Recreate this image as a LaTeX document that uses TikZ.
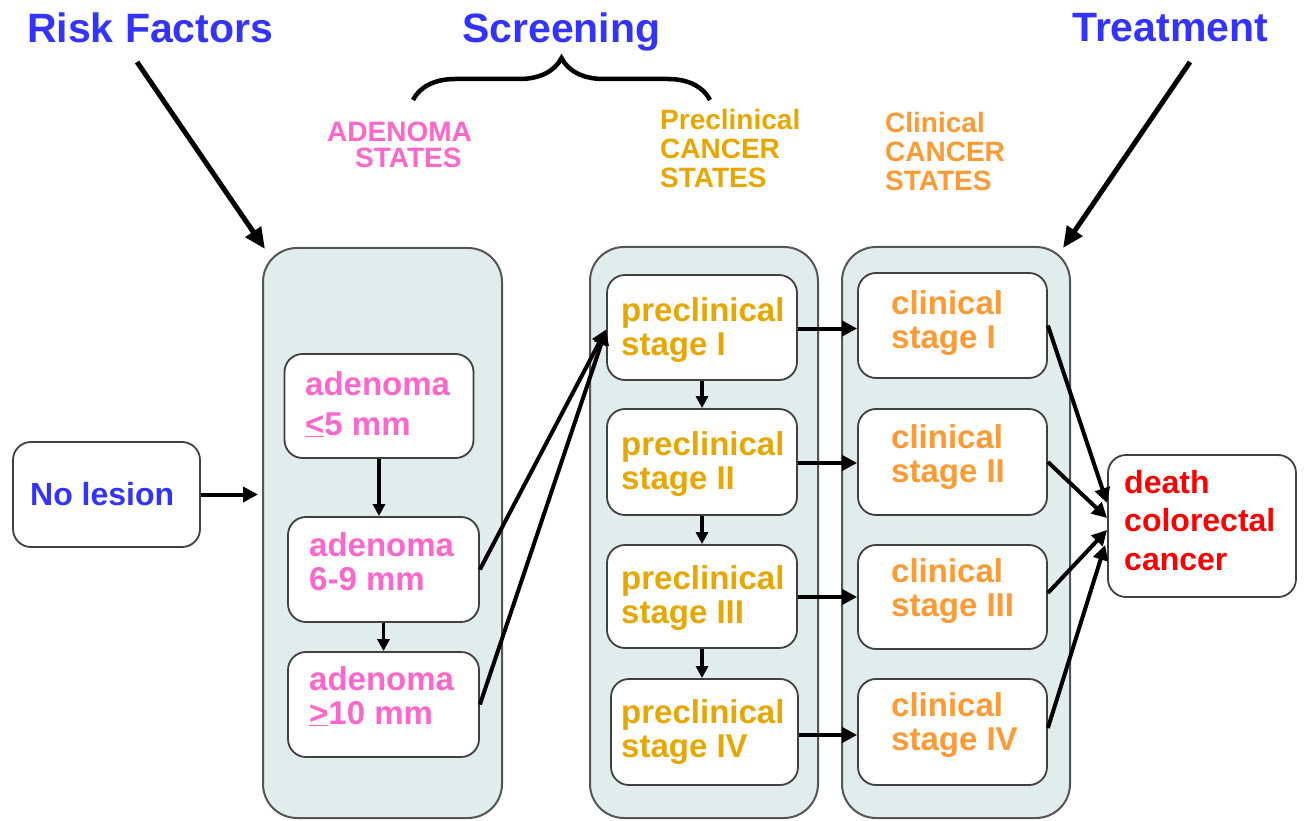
\documentclass[tikz,border=0pt]{standalone}
\usepackage{fontspec}
\setmainfont{Liberation Sans}
\usetikzlibrary{arrows.meta,decorations.pathreplacing}
\definecolor{ttblue}{RGB}{51,51,255}
\definecolor{adpink}{RGB}{255,102,204}
\definecolor{pregold}{RGB}{231,166,0}
\definecolor{clorange}{RGB}{255,153,51}
\definecolor{dred}{RGB}{255,0,0}
\definecolor{contfill}{RGB}{225,237,237}
\definecolor{contgray}{RGB}{85,85,85}
\definecolor{boxgray}{RGB}{64,64,64}
\begin{document}
\begin{tikzpicture}[x=1pt,y=-1pt,
  container/.style={draw=contgray, line width=2pt, fill=contfill, rounded corners=34pt, inner sep=0pt},
  sbox/.style={draw=boxgray, line width=1.8pt, fill=white, rounded corners=18pt, inner sep=0pt},
  txt/.style={anchor=base west, align=left, inner sep=0pt},
  title/.style={txt, text=ttblue, font={\bfseries\fontsize{41pt}{44pt}\selectfont}},
  head/.style={txt, font={\bfseries\fontsize{28pt}{29pt}\selectfont}},
  inner/.style={txt, font={\bfseries\fontsize{33pt}{34pt}\selectfont}},
  conn/.style={line width=4pt, -{Triangle[length=15pt,width=15pt]}},
  down/.style={line width=3.2pt, -{Triangle[length=12pt,width=12pt]}},
  bigarrow/.style={line width=5pt, -{Triangle[length=21pt,width=18pt]}}
]
\useasboundingbox (0,0) rectangle (1304,821);

% titles
\node[title] (rf) at (27,43) {Risk Factors};
\node[title] (scr) at (462,43) {Screening};
\node[title] (trt) at (1072,42) {Treatment};

% section headings (anchor = baseline of last line)
\node[head, text=adpink, font={\bfseries\fontsize{28pt}{26pt}\selectfont}] (hAd) at (327,168) {ADENOMA\\\hspace*{28pt}STATES};
\node[head, text=pregold] (hPre) at (660,188) {Preclinical\\CANCER\\STATES};
\node[head, text=clorange] (hCl) at (885,191) {Clinical\\CANCER\\STATES};

% brace
\coordinate (brL) at (413,100);
\coordinate (brR) at (710,100);
\draw[line width=4.5pt, decorate, decoration={brace, amplitude=42pt}] (brL) -- (brR);

% containers
\node[container, minimum width=239pt, minimum height=570pt] (adC) at (382.5,533) {};
\node[container, minimum width=228pt, minimum height=571pt] (preC) at (704,532.5) {};
\node[container, minimum width=228pt, minimum height=571pt] (clC) at (956,532.5) {};

% boxes
\node[sbox, minimum width=187pt, minimum height=105pt] (nl) at (106.5,494.5) {};
\node[sbox, minimum width=189pt, minimum height=104pt] (a1) at (379,406) {};
\node[sbox, minimum width=191pt, minimum height=105pt] (a2) at (383.5,569.5) {};
\node[sbox, minimum width=191pt, minimum height=105pt] (a3) at (383.5,704.5) {};
\node[sbox, minimum width=190pt, minimum height=105pt] (p1) at (702,327.5) {};
\node[sbox, minimum width=190pt, minimum height=106pt] (p2) at (702,462) {};
\node[sbox, minimum width=190pt, minimum height=103pt] (p3) at (702,596.5) {};
\node[sbox, minimum width=187pt, minimum height=106pt] (p4) at (704.5,732) {};
\node[sbox, minimum width=189pt, minimum height=105pt] (c1) at (952.5,325.5) {};
\node[sbox, minimum width=189pt, minimum height=106pt] (c2) at (952.5,462) {};
\node[sbox, minimum width=189pt, minimum height=104pt] (c3) at (952.5,597) {};
\node[sbox, minimum width=189pt, minimum height=106pt] (c4) at (952.5,732) {};
\node[sbox, minimum width=188pt, minimum height=142pt] (d) at (1202,526) {};

% box texts (anchor = baseline of last line)
\node[inner, text=ttblue, font={\bfseries\fontsize{32pt}{34pt}\selectfont}] (tnl) at (30,505) {No lesion};
\node[inner, text=adpink] (ta1) at (305,435) {adenoma\\[6pt]\underline{<}5 mm};
\node[inner, text=adpink] (ta2) at (309,590) {adenoma\\6-9 mm};
\node[inner, text=adpink] (ta3) at (309,724) {adenoma\\\underline{>}10 mm};
\node[inner, text=pregold] (tp1) at (621,355) {preclinical\\stage I};
\node[inner, text=pregold] (tp2) at (621,489) {preclinical\\stage II};
\node[inner, text=pregold] (tp3) at (621,623) {preclinical\\stage III};
\node[inner, text=pregold] (tp4) at (621,757) {preclinical\\stage IV};
\node[inner, text=clorange] (tc1) at (891,348) {clinical\\stage I};
\node[inner, text=clorange] (tc2) at (891,482) {clinical\\stage II};
\node[inner, text=clorange] (tc3) at (891,616) {clinical\\stage III};
\node[inner, text=clorange] (tc4) at (891,750) {clinical\\stage IV};
\node[inner, text=dred, font={\bfseries\fontsize{32pt}{38.5pt}\selectfont}] (td) at (1124,570) {death\\colorectal\\cancer};

% big arrows
\coordinate (rfStart) at (137,62);
\coordinate (trStart) at (1190,62);
\draw[bigarrow] (rfStart) -- ([xshift=3pt,yshift=-2pt]adC.north west);
\draw[bigarrow] (trStart) -- ([xshift=-8pt,yshift=-2pt]clC.north east);

% connectors
\draw[conn] (nl.east) -- ([xshift=-4pt]adC.west |- nl.east);
\draw[down] (a1.south) -- (a1.south |- a2.north);
\draw[down] (a2.south) -- (a3.north);
\draw[conn] (a2.east) -- ([yshift=-2pt]p1.west);
\draw[conn] (a3.east) -- ([yshift=-2pt]p1.west);
\draw[down] (p1.south) -- (p2.north);
\draw[down] (p2.south) -- (p3.north);
\draw[down] (p3.south) -- (p3.south |- p4.north);
\draw[conn] ([yshift=-1pt]p1.east) -- ([yshift=-1pt]c1.west |- p1.east);
\draw[conn] ([yshift=-1pt]p2.east) -- ([yshift=-1pt]c2.west |- p2.east);
\draw[conn] ([yshift=-0.5pt]p3.east) -- ([yshift=-0.5pt]c3.west |- p3.east);
\draw[conn] ([yshift=-3pt]p4.east) -- ([yshift=-3pt]c4.west |- p4.east);
\draw[conn] (c1.east) -- ([yshift=23pt]d.west);
\draw[conn] (c2.east) -- ([yshift=8pt]d.west);
\draw[conn] ([yshift=4pt]c3.east) -- ([yshift=-4pt]d.west);
\draw[conn] ([yshift=4pt]c4.east) -- ([xshift=-2pt,yshift=-19pt]d.west);
\end{tikzpicture}
\end{document}
